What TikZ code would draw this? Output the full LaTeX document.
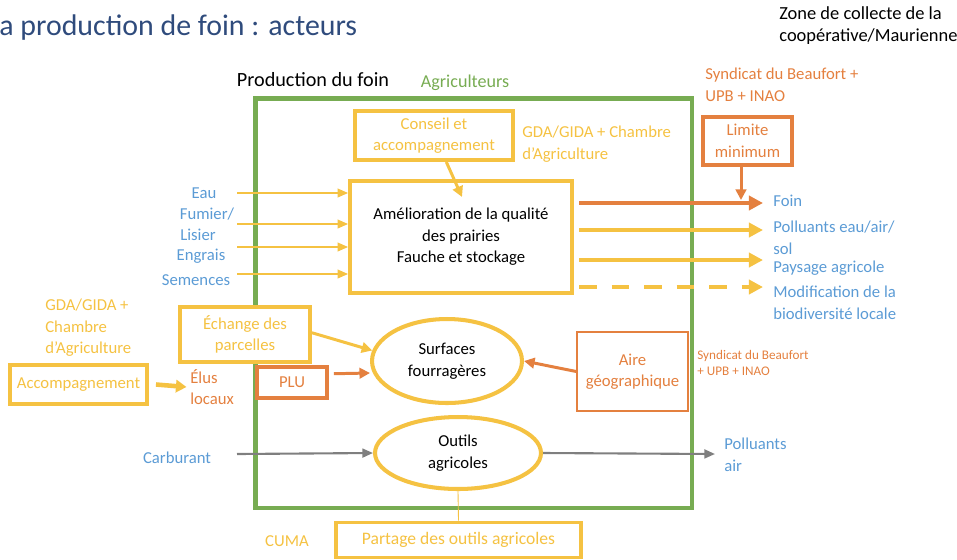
\documentclass[tikz,border=0pt]{standalone}
\usepackage{fontspec}
\setmainfont{Carlito}
\usetikzlibrary{arrows.meta,positioning,shapes.geometric}

\definecolor{jaune}{HTML}{F5C242}
\definecolor{orangec}{HTML}{E4803F}
\definecolor{vert}{HTML}{77AC52}
\definecolor{bleu}{HTML}{5B9BD5}
\definecolor{gris}{HTML}{7F7F7F}
\definecolor{titre}{HTML}{2F4B7C}

\begin{document}
\begin{tikzpicture}[x=0.02cm,y=-0.02cm,
    every node/.style={font=\fontsize{9.5}{12.3}\selectfont,align=center,inner sep=0pt},
    boite/.style={draw=jaune,fill=white,line width=2.2pt,text=jaune},
    boiteor/.style={draw=orangec,fill=white,line width=1.8pt,text=orangec},
    bulle/.style={ellipse,draw=jaune,fill=white,line width=2.3pt},
    lbl/.style={anchor=west,align=left},
    fin/.style={->,>={Triangle[length=6pt,width=5pt]},jaune,line width=0.9pt},
    gros/.style={->,>={Triangle[length=8pt,width=8pt]},line width=2.3pt},
    moyen/.style={->,>={Triangle[length=6pt,width=6pt]},line width=1.7pt},
    gris fl/.style={->,>={Triangle[length=6pt,width=5pt]},gris,line width=1.2pt}]
    \useasboundingbox (0,0) rectangle (957,559);

    \node[lbl,text=titre,font=\fontsize{17}{20}\selectfont] (titre) at (-1,28) {a production de foin : acteurs};
    \node[lbl,font=\fontsize{10.5}{12.5}\selectfont] (zone) at (779,26) {Zone de collecte de la\\coopérative/Maurienne};

    \node[draw=vert,line width=2.8pt,minimum width=8.74cm,minimum height=8.2cm] (ferme) at (473.5,303) {};
    \node[font=\fontsize{11.5}{13}\selectfont] (prod) at (313,80) {Production du foin};
    \node[text=vert,font=\fontsize{10.3}{12}\selectfont] (agri) at (465,83) {Agriculteurs};

    \node[boite,text=black,minimum width=4.44cm,minimum height=2.24cm] (amelio) at (461,237)
        {Amélioration de la qualité\\des prairies\\Fauche et stockage};
    \node[boite,minimum width=3.16cm,minimum height=0.98cm] (conseil) at (434,135.5) {Conseil et\\accompagnement};
    \node[lbl,text=jaune] (gda1) at (522,144) {GDA/GIDA + Chambre\\d’Agriculture};

    \node[lbl,text=orangec] (synd1) at (705,85) {Syndicat du Beaufort +\\UPB + INAO};
    \node[boiteor,minimum width=1.78cm,minimum height=0.96cm] (limite) at (747.5,141) {Limite\\minimum};

    \node[text=bleu] (eau) at (204,193) {Eau};
    \node[text=bleu] (fumier) at (207,214) {Fumier/};
    \node[text=bleu] (lisier) at (198,235) {Lisier};
    \node[text=bleu] (engrais) at (201,256) {Engrais};
    \node[text=bleu] (semences) at (196,280) {Semences};
    \coordinate (e1) at (237,193);
    \coordinate (e2) at (237,224);
    \coordinate (e3) at (237,247);
    \coordinate (e4) at (237,274);

    \node[lbl,text=bleu] (foin) at (773,201) {Foin};
    \node[lbl,text=bleu] (poll) at (773,238) {Polluants eau/air/\\sol};
    \node[lbl,text=bleu] (paysage) at (773,268) {Paysage agricole};
    \node[lbl,text=bleu] (biodiv) at (773,303) {Modification de la\\biodiversité locale};
    \coordinate (s1) at (763,203);
    \coordinate (s2) at (763,230);
    \coordinate (s3) at (763,260);
    \coordinate (s4) at (763,287);
    \coordinate (limbout) at (741,200);
    \coordinate (conbout) at (462,197);

    \node[lbl,text=jaune] (gda2) at (45,328) {GDA/GIDA +\\Chambre\\d’Agriculture};
    \node[boite,minimum width=2.74cm,minimum height=0.78cm] (accomp) at (78.5,384.5) {Accompagnement};
    \node[lbl,text=orangec] (elus) at (190,387) {Élus\\locaux};
    \node[boite,minimum width=2.6cm,minimum height=1.1cm] (echange) at (245,334.5) {Échange des\\parcelles};
    \node[boiteor,minimum width=1.4cm,minimum height=0.62cm] (plu) at (292,382.5) {PLU};
    \node[bulle,minimum width=3cm,minimum height=1.68cm] (surf) at (447,361) {Surfaces\\fourragères};
    \node[draw=orangec,fill=white,line width=0.8pt,text=orangec,minimum width=2.22cm,minimum height=1.58cm] (aire) at (632.5,371.5)
        {Aire\\géographique};
    \node[lbl,text=orangec,font=\fontsize{7.5}{9}\selectfont] (synd2) at (697,363) {Syndicat du Beaufort\\+ UPB + INAO};

    \node[bulle,minimum width=3.32cm,minimum height=1.44cm] (outils) at (458,453) {Outils\\agricoles};
    \node[text=bleu] (carb) at (177,458) {Carburant};
    \node[lbl,text=bleu] (pollair) at (724,455) {Polluants\\air};
    \coordinate (c1) at (237,454);
    \coordinate (c2) at (715,454);
    \node[boite,minimum width=4.9cm,minimum height=0.7cm,font=\fontsize{10}{12}\selectfont] (partage) at (458.5,540)
        {Partage des outils agricoles};
    \node[text=jaune] (cuma) at (287,541) {CUMA};

    \path
    (e1) edge[fin] (e1 -| amelio.west)
    (e2) edge[fin] (e2 -| amelio.west)
    (e3) edge[fin] (e3 -| amelio.west)
    (e4) edge[fin] (e4 -| amelio.west)
    ([xshift=3pt]amelio.east |- s1) edge[gros,orangec] (s1)
    ([xshift=3pt]amelio.east |- s2) edge[gros,jaune] (s2)
    ([xshift=3pt]amelio.east |- s3) edge[gros,jaune] (s3)
    ([xshift=3pt]amelio.east |- s4) edge[gros,jaune,dash pattern=on 10pt off 8.5pt] (s4)
    (limite.south -| limbout) edge[moyen,orangec] (limbout)
    ([xshift=7pt]conseil.south) edge[moyen,jaune] (conbout)
    ([xshift=4pt]accomp.east) edge[->,>={Triangle[length=6pt,width=7pt]},jaune,line width=2.6pt] ([xshift=-2pt]elus.west)
    ([yshift=1pt]echange.east) edge[moyen,jaune] (surf.172)
    ([xshift=3pt,yshift=5pt]plu.east) edge[moyen,orangec] (surf.west |- 0,373)
    (aire.west) edge[moyen,orangec] (surf.east)
    (c1) edge[gris fl] (outils.west)
    (outils.east) edge[gris fl] (c2)
    (outils.south) edge[jaune,line width=0.5pt] (partage.north)
    ;
\end{tikzpicture}
\end{document}
